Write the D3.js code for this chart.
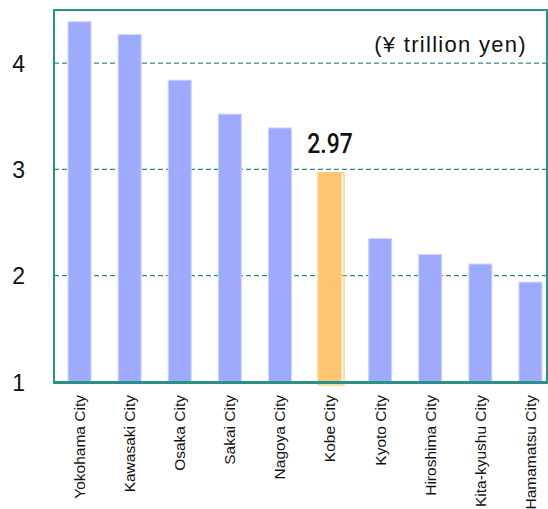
<!DOCTYPE html>
<html>
<head>
<meta charset="utf-8">
<script src="https://cdn.jsdelivr.net/npm/d3@7"></script>
<style>
  html, body { margin: 0; padding: 0; background: #fff; }
  svg { display: block; font-family: "Liberation Sans", Arial, sans-serif; }
</style>
</head>
<body>
<svg id="chart" width="548" height="509"></svg>
<script>
// Municipal figures, ¥ trillion yen
const cities = ["Yokohama City", "Kawasaki City", "Osaka City", "Sakai City", "Nagoya City",
                "Kobe City", "Kyoto City", "Hiroshima City", "Kita-kyushu City", "Hamamatsu City"];
const values = [4.39, 4.27, 3.84, 3.52, 3.39, 2.97, 2.35, 2.20, 2.11, 1.94];
const yTicks = [1, 2, 3, 4];
const highlightCity = "Kobe City";
const unitLabel = "(¥ trillion yen)";

const svg = d3.select("#chart");
const frame = { left: 54, top: 10, right: 547, bottom: 382 };
const teal = "#2a9088";
const blue = "#9eabfc";
const orange = "#ffc56e";

const x = d3.scaleBand().domain(cities).range([48, 562]).paddingInner(0.541).paddingOuter(0.4);
const y = d3.scaleLinear().domain([1, 4.5]).range([frame.bottom, frame.top]);

// dashed gridlines
svg.append("g").selectAll("line").data(yTicks.filter(d => d > 1)).join("line")
  .attr("x1", frame.left).attr("x2", frame.right)
  .attr("y1", d => y(d)).attr("y2", d => y(d))
  .attr("stroke", teal).attr("stroke-width", 1.3).attr("stroke-dasharray", "5,3");

// bars
svg.append("g").selectAll("rect").data(cities).join("rect")
  .attr("x", d => x(d))
  .attr("y", (d, i) => y(values[i]))
  .attr("width", x.bandwidth())
  .attr("height", (d, i) => y(1) - y(values[i]))
  .attr("fill", d => d === highlightCity ? orange : blue)
  .attr("stroke", d => d === highlightCity ? "#ffe2b5" : "#cdd4ff")
  .attr("stroke-width", 1);

// outline marking the highlighted bar
const hi = cities.indexOf(highlightCity);
svg.append("rect")
  .attr("x", x(highlightCity) - 0.5)
  .attr("y", y(values[hi]))
  .attr("width", x.bandwidth() + 3)
  .attr("height", y(1) - y(values[hi]) + 3)
  .attr("fill", "none")
  .attr("stroke", orange).attr("stroke-width", 1.2);

// plot frame
svg.append("path")
  .attr("d", `M${frame.left},${frame.bottom}V${frame.top}H${frame.right}V${frame.bottom}`)
  .attr("fill", "none").attr("stroke", teal).attr("stroke-width", 2);
svg.append("line")
  .attr("x1", frame.left - 1).attr("x2", frame.right + 1)
  .attr("y1", frame.bottom + 0.5).attr("y2", frame.bottom + 0.5)
  .attr("stroke", teal).attr("stroke-width", 3);

// y axis labels
const yAxis = d3.axisLeft(y).tickValues(yTicks).tickFormat(d3.format("d")).tickSize(0).tickPadding(29);
const yg = svg.append("g").attr("transform", `translate(${frame.left},0)`).call(yAxis);
yg.select(".domain").remove();
yg.selectAll("text").attr("font-size", 23).attr("fill", "#111")
  .attr("font-family", "'Liberation Sans', Arial, sans-serif").attr("dy", "0.36em");

// x axis labels, rotated
const xAxis = d3.axisBottom(x).tickSize(0).tickPadding(0);
const xg = svg.append("g").attr("transform", `translate(0,${frame.bottom})`).call(xAxis);
xg.select(".domain").remove();
xg.selectAll("text")
  .attr("font-size", 15.5).attr("fill", "#111")
  .attr("font-family", "'Liberation Sans', Arial, sans-serif")
  .attr("text-anchor", "end")
  .attr("transform", "rotate(-90)")
  .attr("x", -13).attr("y", 0).attr("dy", "0.35em");

// value label on the highlighted bar
const cx = x(highlightCity) + x.bandwidth() / 2;
svg.append("text")
  .attr("transform", `translate(${cx},${y(values[hi]) - 20}) scale(0.82,1)`)
  .attr("text-anchor", "middle")
  .attr("font-family", "Roboto, 'Liberation Sans', sans-serif")
  .attr("font-weight", 500)
  .attr("font-size", 28).attr("fill", "#111")
  .text(values[hi].toFixed(2));

// unit label
svg.append("text")
  .attr("x", 527).attr("y", 52)
  .attr("text-anchor", "end")
  .attr("font-size", 22).attr("fill", "#111")
  .attr("letter-spacing", 1.3)
  .text(unitLabel);
</script>
</body>
</html>
